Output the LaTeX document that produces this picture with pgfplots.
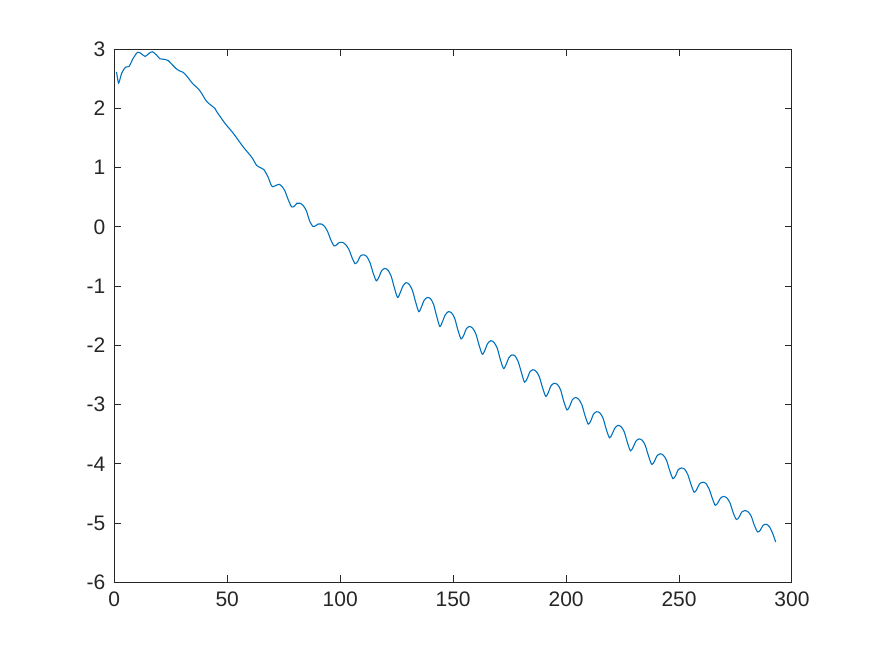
\documentclass[border=0pt]{standalone}
\usepackage{fontspec}
\setmainfont{Liberation Sans}
\usepackage{pgfplots}
\pgfplotsset{compat=1.18}
\definecolor{mlblue}{rgb}{0,0.447,0.741}
\definecolor{axgray}{rgb}{0.15,0.15,0.15}
\begin{document}
\begin{tikzpicture}
\useasboundingbox (0,0) rectangle (437.5pt,328pt);
\begin{axis}[
  at={(57.15pt,36.85pt)}, anchor=south west,
  scale only axis, width=338.85pt, height=266.5pt,
  xmin=0, xmax=300, ymin=-6, ymax=3,
  xtick={0,50,...,300}, ytick={-6,-5,...,3},
  xticklabels={0,50,100,150,200,250,300},
  yticklabels={-6,-5,-4,-3,-2,-1,0,1,2,3},
  tick align=inside, xtick pos=both, ytick pos=both,
  major tick length=3.4pt,
  axis line style={axgray, line width=0.5pt},
  every tick/.style={axgray, line width=0.5pt},
  tick label style={font=\fontsize{10.5}{12}\selectfont, text=axgray},
  xticklabel style={yshift=-1pt},
  yticklabel style={xshift=-1pt},
]
\addplot[mlblue, line width=0.55pt, smooth, tension=0.45] coordinates {
(1.0,2.62) (1.9,2.43) (3.3,2.60) (5.0,2.70) (6.5,2.71) (8.4,2.85) (10.3,2.95) (11.8,2.93) (13.6,2.88) (15.0,2.92) (16.8,2.96) (18.8,2.90) (20.2,2.84) (22.4,2.83) (23.9,2.81) (25.4,2.75) (27.2,2.68) (28.6,2.64) (30.5,2.61) (32.5,2.53) (34.5,2.43) (37.9,2.30) (40.9,2.12) (44.6,2.00) (45.3,1.95) (49.0,1.75) (52.7,1.58) (57.1,1.35) (60.8,1.18) (63.0,1.04) (64.8,1.00) (66.2,0.97) (68.1,0.84) (69.3,0.72) (70.1,0.68) (71.5,0.70) (73.0,0.72) (74.3,0.68) (75.5,0.61) (77.0,0.46) (78.5,0.34)
(79.67,0.35) (80.84,0.40) (82.25,0.40) (83.66,0.36) (85.06,0.27) (86.47,0.10)
(87.9,0.01) (89.07,0.02) (90.24,0.05) (91.65,0.05) (93.06,0.01) (94.46,-0.08) (95.87,-0.22)
(97.3,-0.32) (98.47,-0.30) (99.64,-0.26) (101.05,-0.26) (102.46,-0.30) (103.86,-0.38) (105.27,-0.52)
(106.6,-0.62) (107.77,-0.58) (108.94,-0.49) (110.35,-0.47) (111.76,-0.50) (113.16,-0.60) (114.57,-0.775)
(116.0,-0.91) (117.17,-0.845) (118.34,-0.74) (119.75,-0.70) (121.16,-0.73) (122.56,-0.83) (123.97,-1.025)
(125.4,-1.19) (126.57,-1.11) (127.74,-1.00) (129.15,-0.94) (130.56,-0.97) (131.96,-1.07) (133.37,-1.265)
(134.8,-1.43) (135.97,-1.35) (137.14,-1.24) (138.55,-1.19) (139.96,-1.21) (141.36,-1.31) (142.77,-1.515)
(144.1,-1.68) (145.27,-1.60) (146.44,-1.49) (147.85,-1.43) (149.26,-1.45) (150.66,-1.54) (152.07,-1.735)
(153.5,-1.89) (154.67,-1.83) (155.84,-1.72) (157.25,-1.68) (158.66,-1.71) (160.06,-1.805) (161.47,-1.995)
(162.9,-2.15) (164.07,-2.08) (165.24,-1.97) (166.65,-1.92) (168.06,-1.95) (169.46,-2.04) (170.87,-2.235)
(172.3,-2.39) (173.47,-2.32) (174.64,-2.21) (176.05,-2.16) (177.46,-2.18) (178.86,-2.28) (180.27,-2.465)
(181.6,-2.62) (182.77,-2.56) (183.94,-2.45) (185.35,-2.41) (186.76,-2.44) (188.16,-2.53) (189.57,-2.715)
(191.0,-2.86) (192.17,-2.79) (193.34,-2.68) (194.75,-2.64) (196.16,-2.66) (197.56,-2.75) (198.97,-2.945)
(200.4,-3.09) (201.57,-3.03) (202.74,-2.92) (204.15,-2.88) (205.56,-2.91) (206.96,-3.00) (208.37,-3.185)
(209.8,-3.33) (210.97,-3.27) (212.14,-3.16) (213.55,-3.12) (214.96,-3.14) (216.36,-3.23) (217.77,-3.415)
(219.2,-3.56) (220.37,-3.50) (221.54,-3.40) (222.95,-3.35) (224.36,-3.375) (225.76,-3.46) (227.17,-3.645)
(228.5,-3.78) (229.67,-3.72) (230.84,-3.62) (232.25,-3.58) (233.66,-3.60) (235.06,-3.69) (236.47,-3.865)
(237.9,-4.01) (239.07,-3.96) (240.24,-3.865) (241.65,-3.83) (243.06,-3.855) (244.46,-3.94) (245.87,-4.115)
(247.3,-4.25) (248.47,-4.20) (249.64,-4.10) (251.05,-4.07) (252.46,-4.09) (253.86,-4.18) (255.27,-4.345)
(256.7,-4.48) (257.87,-4.43) (259.04,-4.34) (260.45,-4.31) (261.86,-4.33) (263.26,-4.42) (264.67,-4.575)
(266.0,-4.70) (267.17,-4.66) (268.34,-4.58) (269.75,-4.55) (271.16,-4.575) (272.56,-4.66) (273.97,-4.825)
(275.4,-4.94) (276.57,-4.90) (277.74,-4.815) (279.15,-4.79) (280.56,-4.81) (281.96,-4.885) (283.37,-5.04)
(284.8,-5.15) (285.97,-5.12) (287.14,-5.04) (288.55,-5.02) (290.0,-5.06) (291.4,-5.17) (292.8,-5.32)
};
\end{axis}
\end{tikzpicture}
\end{document}
